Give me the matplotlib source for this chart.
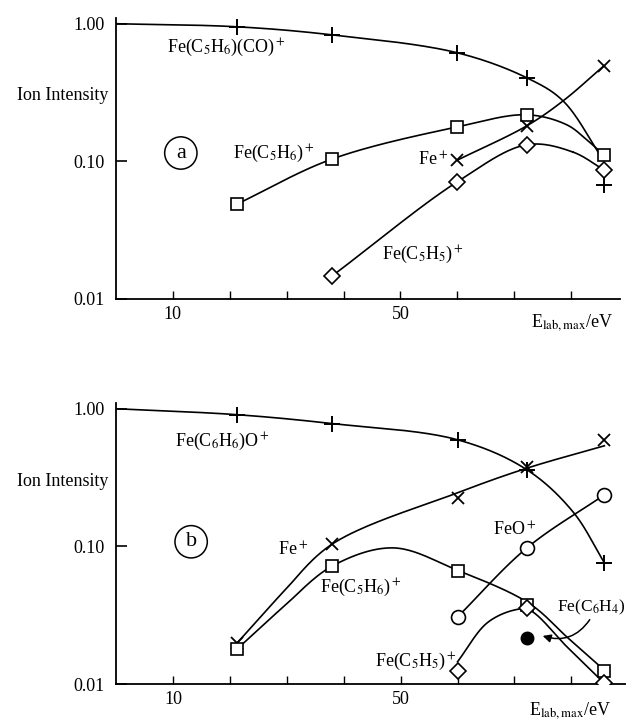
import numpy as np
import matplotlib
matplotlib.use('Agg')
import matplotlib.pyplot as plt

plt.rcParams['font.family'] = ['Liberation Serif', 'DejaVu Serif']
plt.rcParams['mathtext.fontset'] = 'stix'

# ---- panel (a) : measured points ----
a_x = [21.3, 38.0, 60.0, 72.2, 85.8]
a_co = [0.95, 0.83, 0.615, 0.405, 0.067]          # Fe(C5H6)(CO)+  (+)
a_c5h6 = [0.049, 0.104, 0.178, 0.218, 0.111]      # Fe(C5H6)+      (square)
a_fe_x = [60.0, 72.2, 85.8]
a_fe = [0.102, 0.181, 0.495]                      # Fe+            (x)
a_c5h5_x = [38.0, 60.0, 72.2, 85.8]
a_c5h5 = [0.0147, 0.071, 0.132, 0.0867]           # Fe(C5H5)+      (diamond)

# panel (a) : hand drawn guide curves
a_co_fit_x = [0, 21.3, 38.0, 60.0, 72.2, 78.6, 85.5]
a_co_fit = [1.0, 0.95, 0.83, 0.615, 0.405, 0.275, 0.105]
a_c5h6_fit_x = [21.3, 38.0, 60.0, 72.2, 79.3, 82.8, 85.8]
a_c5h6_fit = [0.049, 0.104, 0.178, 0.218, 0.184, 0.143, 0.111]
a_fe_fit_x = [60.0, 72.2, 78.6, 85.8]
a_fe_fit = [0.102, 0.181, 0.275, 0.495]
a_c5h5_fit_x = [38.0, 60.0, 72.2, 80.3, 85.8]
a_c5h5_fit = [0.0147, 0.071, 0.132, 0.117, 0.0867]

# ---- panel (b) : measured points ----
b_x = [21.3, 38.0, 60.0, 72.2, 85.8]
b_o = [0.905, 0.77, 0.595, 0.36, 0.076]           # Fe(C6H6)O+  (+)
b_fe = [0.0199, 0.104, 0.225, 0.38, 0.595]        # Fe+         (x)
b_c5h6 = [0.018, 0.072, 0.066, 0.0376, 0.0124]    # Fe(C5H6)+   (square)
b_c5h5_x = [60.0, 72.2, 85.8]
b_c5h5 = [0.0124, 0.0357, 0.0102]                 # Fe(C5H5)+   (diamond)
b_feo_x = [60.0, 72.2, 85.8]
b_feo = [0.0307, 0.0975, 0.237]                   # FeO+        (circle)
b_c6h4_x = [72.2]
b_c6h4 = [0.0216]                                 # Fe(C6H4)    (filled)

# panel (b) : guide curves
b_o_fit_x = [0, 21.3, 38.0, 60.0, 72.2, 80.3, 85.8]
b_o_fit = [1.0, 0.905, 0.78, 0.595, 0.36, 0.178, 0.076]
b_fe_fit_x = [21.3, 25.5, 29.4, 38.0, 60.0, 72.2, 85.8]
b_fe_fit = [0.0199, 0.031, 0.0467, 0.104, 0.245, 0.37, 0.538]
b_c5h6_fit_x = [21.3, 25.5, 29.4, 38.0, 48.7, 60.0, 72.6, 79.3, 85.8]
b_c5h6_fit = [0.018, 0.026, 0.0363, 0.072, 0.0975, 0.067, 0.0385, 0.0218, 0.0126]
b_c5h5_fit_x = [60.0, 65.2, 70.0, 72.6, 79.3, 85.5]
b_c5h5_fit = [0.0145, 0.0278, 0.0345, 0.0345, 0.0185, 0.0104]
b_feo_fit_x = [60.0, 72.2, 85.8]
b_feo_fit = [0.0307, 0.0975, 0.237]

x_ticks = [10, 20, 30, 40, 50, 60, 70, 80]
x_ticklabels = ['10', '', '', '', '50', '', '', '']
y_ticks = [0.01, 0.1, 1.0]
y_ticklabels = ['0.01', '0.10', '1.00']


def smooth(xs, ys, n=40):
    # centripetal catmull-rom through the guide points, in (x, log y)
    P = np.column_stack([np.asarray(xs, float) * 5.7, np.log10(ys) * 137.5])
    P = np.vstack([2 * P[0] - P[1], P, 2 * P[-1] - P[-2]])
    out = []
    for i in range(1, len(P) - 2):
        p0, p1, p2, p3 = P[i - 1:i + 3]
        t0 = 0.0
        t1 = t0 + np.linalg.norm(p1 - p0) ** 0.5
        t2 = t1 + np.linalg.norm(p2 - p1) ** 0.5
        t3 = t2 + np.linalg.norm(p3 - p2) ** 0.5
        t = np.linspace(t1, t2, n)[:, None]
        A1 = (t1 - t) / (t1 - t0) * p0 + (t - t0) / (t1 - t0) * p1
        A2 = (t2 - t) / (t2 - t1) * p1 + (t - t1) / (t2 - t1) * p2
        A3 = (t3 - t) / (t3 - t2) * p2 + (t - t2) / (t3 - t2) * p3
        B1 = (t2 - t) / (t2 - t0) * A1 + (t - t0) / (t2 - t0) * A2
        B2 = (t3 - t) / (t3 - t1) * A2 + (t - t1) / (t3 - t1) * A3
        out.append((t2 - t) / (t2 - t1) * B1 + (t - t1) / (t2 - t1) * B2)
    C = np.vstack(out)
    return C[:, 0] / 5.7, 10 ** (C[:, 1] / 137.5)


def curve(ax, xs, ys):
    sx, sy = smooth(xs, ys)
    ax.plot(sx, sy, color='k', lw=1.2, zorder=2)


def setup(ax, xmax):
    ax.set_yscale('log')
    ax.set_xlim(0, xmax)
    ax.set_ylim(0.01, 1.1)
    ax.spines['top'].set_visible(False)
    ax.spines['right'].set_visible(False)
    ax.spines['left'].set_linewidth(1.3)
    ax.spines['bottom'].set_linewidth(1.3)
    ax.set_yticks(y_ticks)
    ax.set_yticklabels(y_ticklabels)
    ax.yaxis.set_minor_locator(matplotlib.ticker.NullLocator())
    ax.set_xticks(x_ticks)
    ax.set_xticklabels(x_ticklabels)
    ax.tick_params(axis='y', direction='in', length=8, width=1.2, pad=8, labelsize=13)
    ax.tick_params(axis='x', direction='in', length=6, width=1.0, pad=5, labelsize=13)
    ax.patch.set_alpha(0)


fig = plt.figure(figsize=(6.26, 7.21), dpi=100)
ax1 = fig.add_axes([0.1853, 0.5853, 0.805, 0.3897])
ax2 = fig.add_axes([0.1853, 0.0513, 0.8147, 0.3897])
setup(ax1, 88.6)
setup(ax2, 89.6)

mk = dict(color='k', ls='none', zorder=3)
plus = dict(marker='+', ms=11, mew=1.4)
cross = dict(marker='x', ms=8, mew=1.3)
sq = dict(marker='s', ms=8, mfc='white', mew=1.2)
dia = dict(marker='D', ms=8, mfc='white', mew=1.2)
circ = dict(marker='o', ms=10, mfc='white', mew=1.2)

# ---- (a) ----
curve(ax1, a_co_fit_x, a_co_fit)
curve(ax1, a_c5h6_fit_x, a_c5h6_fit)
curve(ax1, a_fe_fit_x, a_fe_fit)
curve(ax1, a_c5h5_fit_x, a_c5h5_fit)
ax1.plot(a_x, a_co, **mk, **plus)
ax1.plot(a_x, a_c5h6, **mk, **sq)
ax1.plot(a_fe_x, a_fe, **mk, **cross)
ax1.plot(a_c5h5_x, a_c5h5, **mk, **dia)

fs = 13
ax1.text(9.0, 0.668, r'Fe(C$_5$H$_6$)(CO)$^+$', fontsize=fs, va='center')
ax1.text(20.6, 0.115, r'Fe(C$_5$H$_6$)$^+$', fontsize=fs, va='center')
ax1.text(53.1, 0.1025, r'Fe$^+$', fontsize=fs, va='center')
ax1.text(46.7, 0.0209, r'Fe(C$_5$H$_5$)$^+$', fontsize=fs, va='center')
ax1.text(11.4, 0.115, 'a', fontsize=16, ha='center', va='center',
         bbox=dict(boxstyle='circle,pad=0.3', fc='none', ec='k', lw=1.1))
ax1.text(-0.015, 0.30, 'Ion Intensity', fontsize=fs, ha='right', va='center',
         transform=ax1.get_yaxis_transform())
ax1.text(80.1, -0.082, r'E$_{\rm lab,max}$/eV', fontsize=fs, ha='center', va='center',
         transform=ax1.get_xaxis_transform())

# ---- (b) ----
curve(ax2, b_o_fit_x, b_o_fit)
curve(ax2, b_fe_fit_x, b_fe_fit)
curve(ax2, b_c5h6_fit_x, b_c5h6_fit)
curve(ax2, b_c5h5_fit_x, b_c5h5_fit)
curve(ax2, b_feo_fit_x, b_feo_fit)
ax2.plot(b_x, b_o, **mk, **plus)
ax2.plot(b_x, b_fe, **mk, **cross)
ax2.plot(b_x, b_c5h6, **mk, **sq)
ax2.plot(b_c5h5_x, b_c5h5, **mk, **dia)
ax2.plot(b_feo_x, b_feo, **mk, **circ)
ax2.plot(b_c6h4_x, b_c6h4, color='k', ls='none', marker='o', ms=9, zorder=3)

ax2.text(10.4, 0.575, r'Fe(C$_6$H$_6$)O$^+$', fontsize=fs, va='center')
ax2.text(28.5, 0.0944, r'Fe$^+$', fontsize=fs, va='center')
ax2.text(35.9, 0.0499, r'Fe(C$_5$H$_6$)$^+$', fontsize=fs, va='center')
ax2.text(66.3, 0.132, r'FeO$^+$', fontsize=fs, va='center')
ax2.text(77.4, 0.0363, r'Fe(C$_6$H$_4$)', fontsize=12.5, va='center')
ax2.text(45.5, 0.0145, r'Fe(C$_5$H$_5$)$^+$', fontsize=fs, va='center')
ax2.text(13.2, 0.108, 'b', fontsize=16, ha='center', va='center',
         bbox=dict(boxstyle='circle,pad=0.3', fc='none', ec='k', lw=1.1))
ax2.text(-0.015, 0.294, 'Ion Intensity', fontsize=fs, ha='right', va='center',
         transform=ax2.get_yaxis_transform())
ax2.text(79.8, -0.093, r'E$_{\rm lab,max}$/eV', fontsize=fs, ha='center', va='center',
         transform=ax2.get_xaxis_transform())
ax2.annotate('', xy=(74.5, 0.0227), xytext=(83.5, 0.0305),
             arrowprops=dict(arrowstyle='-|>', color='k', lw=1.1,
                             connectionstyle='arc3,rad=-0.4', mutation_scale=12))

fig.savefig('out.png', dpi=100)
